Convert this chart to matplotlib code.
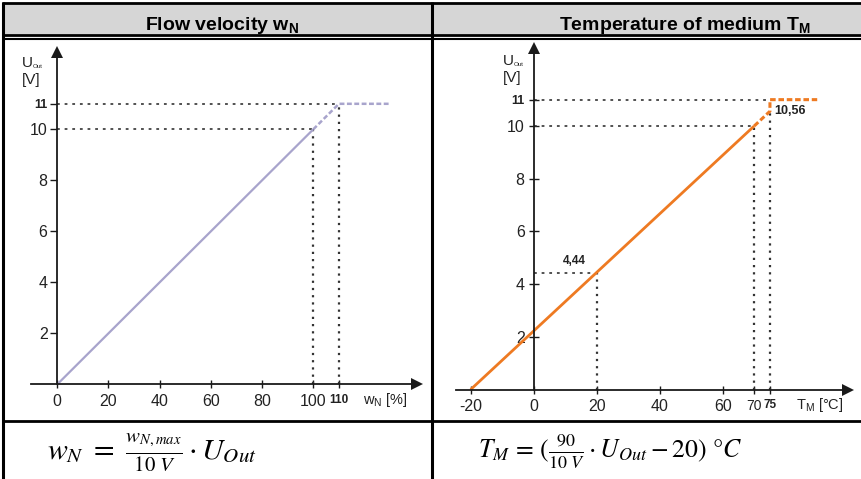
import matplotlib
matplotlib.use("Agg")
import matplotlib.pyplot as plt
from matplotlib.lines import Line2D
from matplotlib.patches import Rectangle

plt.rcParams['font.family'] = ['Liberation Sans', 'DejaVu Sans']
plt.rcParams['mathtext.fontset'] = 'custom'
plt.rcParams['mathtext.rm'] = 'Liberation Sans'
plt.rcParams['mathtext.it'] = 'Liberation Sans:italic'
plt.rcParams['mathtext.bf'] = 'Liberation Sans:bold'
plt.rcParams['lines.scale_dashes'] = False

# ---------------- data ----------------
header_left = r"Flow velocity w$_\mathbf{N}$"
header_right = r"Temperature of medium T$_\mathbf{M}$"
formula_left = r"$w_N\ =\ \frac{w_{N,max}}{10\ V} \cdot U_{Out}$"
formula_right = r"$T_M\,=\,(\frac{90}{10\ V} \cdot U_{Out} - 20)\ °C$"

flow_pct_solid = [0, 100]
flow_u_solid = [0, 10]
flow_pct_over = [100, 110, 130]
flow_u_over = [10, 11, 11]
flow_hline_u = [10, 11]
flow_hline_pct = [100, 110]
flow_vline_pct = [100, 110]
flow_vline_u = [10, 11]
flow_xticks = [0, 20, 40, 60, 80, 100, 110]
flow_xticklabels = ["0", "20", "40", "60", "80", "100", "110"]
flow_yticks = [2, 4, 6, 8, 10, 11]
flow_yticklabels = ["2", "4", "6", "8", "10", "11"]

temp_t_solid = [-20, 70]
temp_u_solid = [0, 10]
temp_t_over = [70, 75, 75, 90]
temp_u_over = [10, 10.56, 11, 11]
temp_hline_u = [4.44, 10, 11]
temp_hline_t = [20, 70, 75]
temp_vline_t = [20, 70, 75]
temp_vline_u = [4.44, 10, 10.56]
temp_xticks = [-20, 0, 20, 40, 60, 70, 75]
temp_xticklabels = ["-20", "0", "20", "40", "60", "70", "75"]
temp_yticks = [2, 4, 6, 8, 10, 11]
temp_yticklabels = ["2", "4", "6", "8", "10", "11"]
temp_marks = [(20, 4.44, "4,44"), (75, 10.56, "10,56")]

# ---------------- figure ----------------
W, H = 862, 479
fig = plt.figure(figsize=(W / 100, H / 100), dpi=100)
fig.patch.set_facecolor("white")


def fx(px):
    return px / W


def fy(py):
    return 1 - py / H


def fline(x0, y0, x1, y1, lw):
    fig.add_artist(Line2D([fx(x0), fx(x1)], [fy(y0), fy(y1)], color="black",
                          lw=lw, transform=fig.transFigure, solid_capstyle="butt"))


# header fill
fig.add_artist(Rectangle((fx(3), fy(33.5)), fx(862) - fx(3), fy(3.5) - fy(33.5),
                         transform=fig.transFigure, facecolor="#d6d6d6", edgecolor="none"))
# table borders
fline(2, 2.8, 862, 2.8, 2.0)
fline(3, 2, 3, 479, 2.2)
fline(432.5, 2, 432.5, 479, 2.2)
fline(2, 34.7, 862, 34.7, 2.0)
fline(2, 38.5, 862, 38.5, 1.5)
fline(2, 421, 862, 421, 2.0)

fig.text(fx(222), fy(29.5), header_left, ha="center", va="baseline",
         fontsize=14, fontweight="bold")
fig.text(fx(685), fy(29.5), header_right, ha="center", va="baseline",
         fontsize=14, fontweight="bold")

fig.text(fx(47), fy(458), formula_left, ha="left", va="baseline",
         fontsize=21.5, math_fontfamily="stix")
fig.text(fx(478), fy(458), formula_right, ha="left", va="baseline",
         fontsize=18.5, math_fontfamily="stix")

AX_COL = "#1a1a1a"
REF_COL = "#333333"
TXT_COL = "#222222"


def make_ax(left, right, top, bottom, x0px, sx, y0px, sy):
    ax = fig.add_axes([fx(left), fy(bottom), (right - left) / W, (bottom - top) / H])
    ax.set_xlim((left - x0px) / sx, (right - x0px) / sx)
    ax.set_ylim((y0px - bottom) / sy, (y0px - top) / sy)
    ax.patch.set_alpha(0)
    for s in ("top", "right"):
        ax.spines[s].set_visible(False)
    for s in ("left", "bottom"):
        ax.spines[s].set_position(("data", 0))
        ax.spines[s].set_color(AX_COL)
        ax.spines[s].set_linewidth(1.3)
    return ax


def style_ticks(ax, xt, xl, yt, yl, ydir, ypad, big_x=(), small_x=()):
    ax.set_xticks(xt)
    ax.set_xticklabels(xl)
    ax.set_yticks(yt)
    ax.set_yticklabels(yl)
    ax.tick_params(axis="x", direction="inout", length=6, width=1.0, color=AX_COL,
                   pad=4, labelsize=11.5, labelcolor=TXT_COL)
    ax.tick_params(axis="y", direction=ydir, length=5 if ydir == "out" else 7,
                   width=1.0, color=AX_COL, pad=ypad, labelsize=11.5, labelcolor=TXT_COL)
    for lab, val in zip(ax.get_xticklabels(), xl):
        if val in big_x:
            lab.set_fontweight("bold")
            lab.set_fontsize(8.5)
        if val in small_x:
            lab.set_fontsize(10)
    for lab, val in zip(ax.get_yticklabels(), yl):
        if val == "11":
            lab.set_fontweight("bold")
            lab.set_fontsize(9)


def u_label(ax, x, y):
    ax.text(x, y, "U", fontsize=11, color=TXT_COL, va="baseline", ha="left")
    ax.annotate("Out", (x, y), xytext=(7.5, -0.5), textcoords="offset points",
                fontsize=4.5, color=TXT_COL, va="baseline", ha="left")
    ax.annotate("[V]", (x, y), xytext=(0, -12.5), textcoords="offset points",
                fontsize=11, color=TXT_COL, va="baseline", ha="left")


# ---------------- left chart ----------------
axL = make_ax(20, 428, 42, 412, 57.3, 2.56, 384.3, 25.5)
xl0, xl1 = (31 - 57.3) / 2.56, (417 - 57.3) / 2.56
ytopL = (384.3 - 52) / 25.5
axL.spines["bottom"].set_bounds(xl0, xl1)
axL.spines["left"].set_bounds(0, ytopL)
axL.plot([xl1], [0], marker=">", ms=8, color=AX_COL, clip_on=False, mew=0)
axL.plot([0], [ytopL], marker="^", ms=8, color=AX_COL, clip_on=False, mew=0)
style_ticks(axL, flow_xticks, flow_xticklabels, flow_yticks, flow_yticklabels,
            "out", 2, big_x=("110",))

for u, p in zip(flow_hline_u, flow_hline_pct):
    axL.plot([0, p], [u, u], color=REF_COL, lw=1.2, ls=(0, (2.0, 3.5)))
for p, u in zip(flow_vline_pct, flow_vline_u):
    axL.plot([p, p], [0, u], color=REF_COL, lw=1.6, ls=(0, (1.6, 3.6)))
axL.plot(flow_pct_solid, flow_u_solid, color="#a8a4cc", lw=1.6, solid_capstyle="butt")
axL.plot(flow_pct_over, flow_u_over, color="#a8a4cc", lw=1.8, ls=(0, (3.5, 1.8)))

u_label(axL, (22 - 57.3) / 2.56, (384.3 - 67) / 25.5)
axL.text(137, -0.62, r"w$_\mathrm{N}$ [%]", fontsize=10.5, color=TXT_COL, va="center", ha="right")

# ---------------- right chart ----------------
axR = make_ax(445, 858, 40, 415, 533.7, 3.15, 389.5, 26.35)
xr0, xr1 = (456 - 533.7) / 3.15, (848 - 533.7) / 3.15
ytopR = (389.5 - 48) / 26.35
axR.spines["bottom"].set_bounds(xr0, xr1)
axR.spines["left"].set_bounds(0, ytopR)
axR.plot([xr1], [0], marker=">", ms=8, color=AX_COL, clip_on=False, mew=0)
axR.plot([0], [ytopR], marker="^", ms=8, color=AX_COL, clip_on=False, mew=0)
style_ticks(axR, temp_xticks, temp_xticklabels, temp_yticks, temp_yticklabels,
            "inout", 3, big_x=("75",), small_x=("70",))

for u, t in zip(temp_hline_u, temp_hline_t):
    axR.plot([0, t], [u, u], color=REF_COL, lw=1.2, ls=(0, (2.0, 3.5)))
for t, u in zip(temp_vline_t, temp_vline_u):
    axR.plot([t, t], [0, u], color=REF_COL, lw=1.6, ls=(0, (1.6, 3.6)))
axR.plot(temp_t_solid, temp_u_solid, color="#ee7a22", lw=2.0, solid_capstyle="butt")
axR.plot(temp_t_over, temp_u_over, color="#ee7a22", lw=2.2, ls=(0, (4.0, 2.0)))

for t, u, s in temp_marks:
    if t < 50:
        axR.annotate(s, (t, u), xytext=(-8, 4), textcoords="offset points",
                     ha="right", va="bottom", fontsize=8.5, fontweight="bold", color=TXT_COL)
    else:
        axR.annotate(s, (t, u), xytext=(3, 0), textcoords="offset points",
                     ha="left", va="center", fontsize=9, fontweight="bold", color=TXT_COL)

u_label(axR, (503 - 533.7) / 3.15, (389.5 - 65) / 26.35)
axR.text(98.5, -0.6, r"T$_\mathrm{M}$ [°C]", fontsize=10.5, color=TXT_COL, va="center", ha="right")

fig.savefig("out.png", dpi=100, facecolor="white")
